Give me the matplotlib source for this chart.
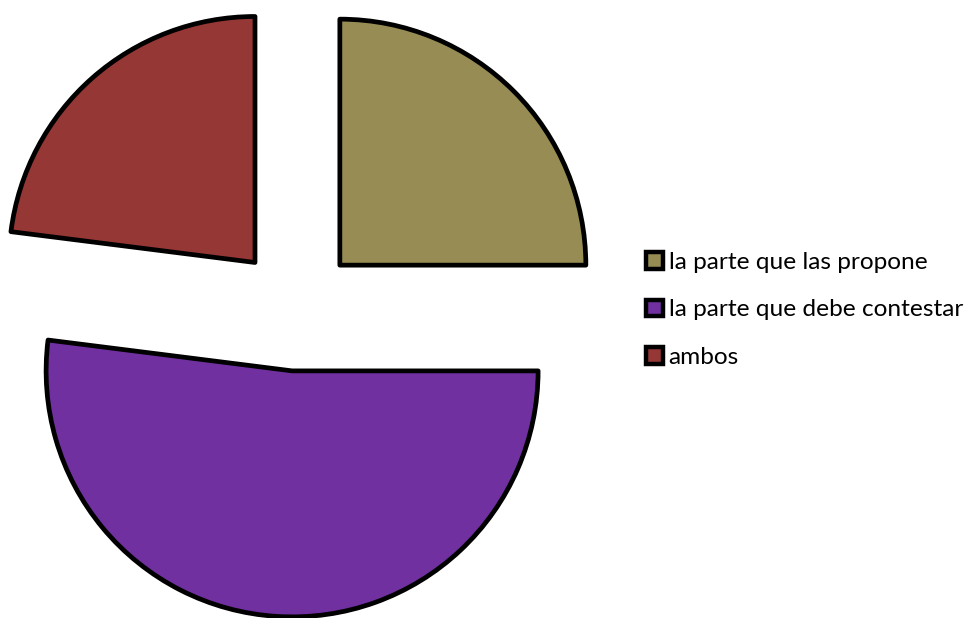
import matplotlib.pyplot as plt
from matplotlib.patches import Patch

# datos del gráfico
categorias = ['la parte que las propone', 'la parte que debe contestar', 'ambos']
valores = [25, 52, 23]
colores = ['#968C54', '#7030A0', '#953735']

W, H = 974, 618
fig = plt.figure(figsize=(W / 100, H / 100), dpi=100)
ax = fig.add_axes([0, 0, 1, 1])

radio = 246
centro = (296, H - 309)
ax.pie(valores, colors=colores, radius=radio, center=centro,
       explode=[62, 62, 62], startangle=90, counterclock=False,
       wedgeprops=dict(edgecolor='black', linewidth=3.4, joinstyle='round'))
ax.set_xlim(0, W)
ax.set_ylim(0, H)
ax.set_aspect('equal')
ax.axis('off')

manejadores = [Patch(facecolor=c, edgecolor='black', linewidth=3.2) for c in colores]
ax.legend(manejadores, categorias, loc='center left',
          bbox_to_anchor=(646 / W, 1 - 310 / H), frameon=False,
          prop={'family': 'Lato', 'size': 17.6},
          handlelength=0.68, handleheight=0.68, handletextpad=0.25,
          labelspacing=1.08, borderpad=0, borderaxespad=0)

fig.savefig('out.png', dpi=100)
